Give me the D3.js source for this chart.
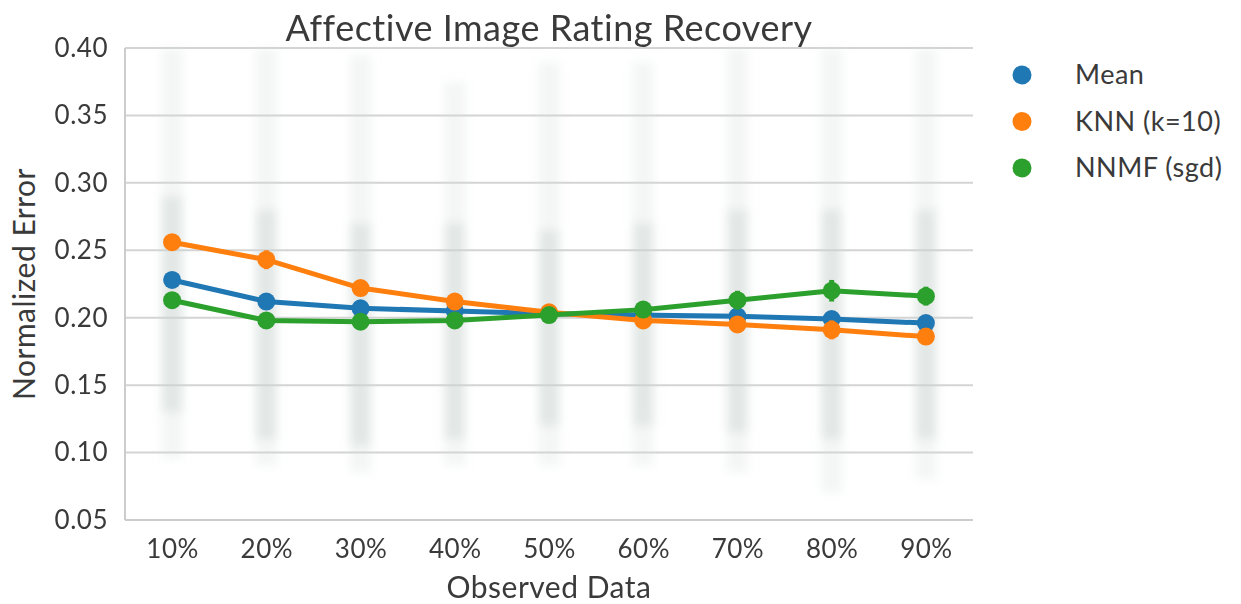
<!DOCTYPE html>
<html>
<head>
<meta charset="utf-8">
<script src="https://cdn.jsdelivr.net/npm/d3@7"></script>
<style>
  body { margin: 0; background: #fff; }
  text { font-family: Lato, "Open Sans", sans-serif; font-weight: 400; fill: #3a3a3a; letter-spacing: 0.5px; }
</style>
</head>
<body>
<div id="chart"></div>
<script>
// values
var categories = ["10%", "20%", "30%", "40%", "50%", "60%", "70%", "80%", "90%"];
var seriesNames = ["Mean", "KNN (k=10)", "NNMF (sgd)"];
var meanVals = [0.228, 0.212, 0.207, 0.205, 0.203, 0.202, 0.201, 0.199, 0.196];
var knnVals  = [0.256, 0.243, 0.222, 0.212, 0.204, 0.198, 0.195, 0.191, 0.186];
var nnmfVals = [0.213, 0.198, 0.197, 0.198, 0.202, 0.206, 0.213, 0.220, 0.216];
var meanCi = [0.006, 0.006, 0.005, 0.005, 0.005, 0.005, 0.005, 0.005, 0.005];
var knnCi  = [0.006, 0.007, 0.006, 0.006, 0.006, 0.006, 0.006, 0.007, 0.006];
var nnmfCi = [0.006, 0.006, 0.006, 0.006, 0.006, 0.006, 0.007, 0.008, 0.007];
// spread of the faint individual points behind each category
var stripMin   = [0.095, 0.090, 0.085, 0.090, 0.090, 0.090, 0.085, 0.070, 0.080];
var stripMax   = [0.400, 0.400, 0.395, 0.375, 0.390, 0.390, 0.400, 0.400, 0.400];
var denseLow   = [0.130, 0.110, 0.105, 0.110, 0.120, 0.120, 0.115, 0.110, 0.110];
var denseHigh  = [0.290, 0.280, 0.270, 0.270, 0.265, 0.270, 0.280, 0.280, 0.280];
var yTicks = [0.05, 0.10, 0.15, 0.20, 0.25, 0.30, 0.35, 0.40];

var colors = ["#1f77b4", "#ff7f0e", "#2ca02c"];
var series = [
  { name: seriesNames[0], values: meanVals, ci: meanCi, color: colors[0] },
  { name: seriesNames[1], values: knnVals, ci: knnCi, color: colors[1] },
  { name: seriesNames[2], values: nnmfVals, ci: nnmfCi, color: colors[2] }
];

var width = 1241, height = 604;
var margin = { left: 125, right: 268, top: 48, bottom: 84 };

var svg = d3.select("#chart")
    .append("svg")
    .attr("width", width)
    .attr("height", height);

var x = d3.scalePoint()
    .domain(categories)
    .range([margin.left, width - margin.right])
    .padding(0.5);

var y = d3.scaleLinear()
    .domain([0.05, 0.40])
    .range([height - margin.bottom, margin.top]);

var defs = svg.append("defs");
defs.append("filter")
    .attr("id", "blur")
    .attr("x", "-50%").attr("width", "200%")
    .append("feGaussianBlur")
    .attr("stdDeviation", 5);

// grid
svg.append("g")
    .selectAll("line")
    .data(yTicks)
    .enter()
    .append("line")
    .attr("x1", margin.left)
    .attr("x2", width - margin.right)
    .attr("y1", function(d) { return y(d); })
    .attr("y2", function(d) { return y(d); })
    .attr("stroke", "#d4d4d4")
    .attr("stroke-width", 2);

// faint strip of raw points
var strip = svg.append("g").attr("filter", "url(#blur)");
categories.forEach(function(c, i) {
  strip.append("rect")
      .attr("x", x(c) - 11)
      .attr("width", 22)
      .attr("y", y(stripMax[i]))
      .attr("height", y(stripMin[i]) - y(stripMax[i]))
      .attr("fill", "#d2dbd8")
      .attr("opacity", 0.25);
  strip.append("rect")
      .attr("x", x(c) - 10)
      .attr("width", 20)
      .attr("y", y(denseHigh[i]))
      .attr("height", y(denseLow[i]) - y(denseHigh[i]))
      .attr("fill", "#c8d3cf")
      .attr("opacity", 0.4);
});

// spines
svg.append("line")
    .attr("x1", margin.left).attr("x2", margin.left)
    .attr("y1", margin.top).attr("y2", height - margin.bottom)
    .attr("stroke", "#cccccc").attr("stroke-width", 2);
svg.append("line")
    .attr("x1", margin.left).attr("x2", width - margin.right)
    .attr("y1", height - margin.bottom).attr("y2", height - margin.bottom)
    .attr("stroke", "#cccccc").attr("stroke-width", 2);

// axes (labels only, seaborn style)
var yAxis = svg.append("g")
    .attr("transform", "translate(" + margin.left + ",0)")
    .call(d3.axisLeft(y).tickValues(yTicks).tickFormat(d3.format(".2f")).tickSize(0).tickPadding(17));
yAxis.select(".domain").remove();
yAxis.selectAll("text").style("font-size", "26px");

var xAxis = svg.append("g")
    .attr("transform", "translate(0," + (height - margin.bottom) + ")")
    .call(d3.axisBottom(x).tickSize(0).tickPadding(20));
xAxis.select(".domain").remove();
xAxis.selectAll("text").style("font-size", "26px");
svg.selectAll(".tick text").attr("font-family", null).attr("fill", null);

// point plot lines
var line = d3.line()
    .x(function(d, i) { return x(categories[i]); })
    .y(function(d) { return y(d); });

series.forEach(function(s) {
  var g = svg.append("g");
  g.append("path")
      .datum(s.values)
      .attr("d", line)
      .attr("fill", "none")
      .attr("stroke", s.color)
      .attr("stroke-width", 5);
  g.selectAll("line.err")
      .data(s.values)
      .enter()
      .append("line")
      .attr("class", "err")
      .attr("x1", function(d, i) { return x(categories[i]); })
      .attr("x2", function(d, i) { return x(categories[i]); })
      .attr("y1", function(d, i) { return y(d - s.ci[i]); })
      .attr("y2", function(d, i) { return y(d + s.ci[i]); })
      .attr("stroke", s.color)
      .attr("stroke-width", 5);
  g.selectAll("circle")
      .data(s.values)
      .enter()
      .append("circle")
      .attr("cx", function(d, i) { return x(categories[i]); })
      .attr("cy", function(d) { return y(d); })
      .attr("r", 9)
      .attr("fill", s.color);
});

// title and axis labels
svg.append("text")
    .attr("x", (margin.left + width - margin.right) / 2)
    .attr("y", 41)
    .attr("text-anchor", "middle")
    .style("font-size", "36px")
    .text("Affective Image Rating Recovery");

svg.append("text")
    .attr("x", (margin.left + width - margin.right) / 2)
    .attr("y", 598)
    .attr("text-anchor", "middle")
    .style("font-size", "30px")
    .text("Observed Data");

svg.append("text")
    .attr("transform", "translate(35," + (height - margin.bottom + margin.top) / 2 + ") rotate(-90)")
    .attr("text-anchor", "middle")
    .style("font-size", "30px")
    .text("Normalized Error");

// legend
var legend = svg.append("g")
    .selectAll("g")
    .data(series)
    .enter()
    .append("g")
    .attr("transform", function(d, i) { return "translate(1022," + (75 + i * 46.5) + ")"; });

legend.append("circle")
    .attr("r", 9.5)
    .attr("fill", function(d) { return d.color; });

legend.append("text")
    .attr("x", 53)
    .attr("dy", "0.35em")
    .style("font-size", "27px")
    .text(function(d) { return d.name; });
</script>
</body>
</html>
